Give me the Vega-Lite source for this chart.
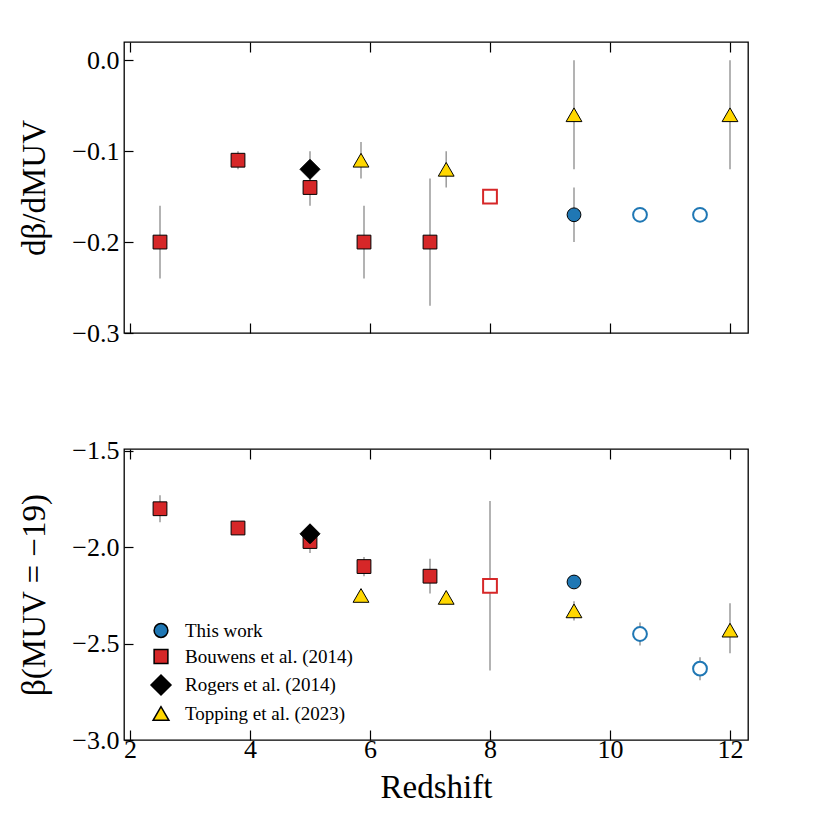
{
  "$schema": "https://vega.github.io/schema/vega-lite/v6.json",
  "background": "white",
  "padding": {"left": 18, "top": 40, "right": 5, "bottom": 5},
  "config": {
    "font": "Liberation Serif",
    "view": {"stroke": "black", "strokeWidth": 1.3},
    "axis": {
      "domain": false, "grid": false,
      "tickColor": "black", "tickWidth": 1.2,
      "labelFont": "Liberation Serif", "labelFontSize": 26, "labelColor": "black", "labelFlush": false,
      "titleFont": "Liberation Serif", "titleFontSize": 33, "titleFontWeight": "normal", "titleColor": "black"
    },
    "axisX": {"tickSize": -10, "labelPadding": 6, "titlePadding": 9},
    "axisY": {"tickSize": -9, "labelPadding": 14, "titlePadding": 20},
    "legend": {"labelFont": "Liberation Serif", "labelFontSize": 19, "labelColor": "black", "labelLimit": 400}
  },
  "datasets": {
    "pts": [
      {"panel": "slope", "study": "Bouwens et al. (2014)", "z": 2.5, "val": -0.20, "lo": -0.24, "hi": -0.16, "open": false},
      {"panel": "slope", "study": "Bouwens et al. (2014)", "z": 3.8, "val": -0.11, "lo": -0.12, "hi": -0.10, "open": false},
      {"panel": "slope", "study": "Bouwens et al. (2014)", "z": 5.0, "val": -0.14, "lo": -0.16, "hi": -0.12, "open": false},
      {"panel": "slope", "study": "Bouwens et al. (2014)", "z": 5.9, "val": -0.20, "lo": -0.24, "hi": -0.16, "open": false},
      {"panel": "slope", "study": "Bouwens et al. (2014)", "z": 7.0, "val": -0.20, "lo": -0.27, "hi": -0.13, "open": false},
      {"panel": "slope", "study": "Bouwens et al. (2014)", "z": 8.0, "val": -0.15, "open": true},
      {"panel": "slope", "study": "Rogers et al. (2014)", "z": 5.0, "val": -0.12, "lo": -0.14, "hi": -0.10, "open": false},
      {"panel": "slope", "study": "Topping et al. (2023)", "z": 5.85, "val": -0.11, "lo": -0.13, "hi": -0.09, "open": false},
      {"panel": "slope", "study": "Topping et al. (2023)", "z": 7.27, "val": -0.12, "lo": -0.14, "hi": -0.10, "open": false},
      {"panel": "slope", "study": "Topping et al. (2023)", "z": 9.4, "val": -0.06, "lo": -0.12, "hi": 0.0, "open": false},
      {"panel": "slope", "study": "Topping et al. (2023)", "z": 12.0, "val": -0.06, "lo": -0.12, "hi": 0.0, "open": false},
      {"panel": "slope", "study": "This work", "z": 9.4, "val": -0.17, "lo": -0.20, "hi": -0.14, "open": false},
      {"panel": "slope", "study": "This work", "z": 10.5, "val": -0.17, "open": true},
      {"panel": "slope", "study": "This work", "z": 11.5, "val": -0.17, "open": true},
      {"panel": "beta", "study": "Bouwens et al. (2014)", "z": 2.5, "val": -1.80, "lo": -1.87, "hi": -1.73, "open": false},
      {"panel": "beta", "study": "Bouwens et al. (2014)", "z": 3.8, "val": -1.90, "lo": -1.92, "hi": -1.88, "open": false},
      {"panel": "beta", "study": "Bouwens et al. (2014)", "z": 5.0, "val": -1.97, "lo": -2.03, "hi": -1.91, "open": false},
      {"panel": "beta", "study": "Bouwens et al. (2014)", "z": 5.9, "val": -2.10, "lo": -2.15, "hi": -2.05, "open": false},
      {"panel": "beta", "study": "Bouwens et al. (2014)", "z": 7.0, "val": -2.15, "lo": -2.24, "hi": -2.06, "open": false},
      {"panel": "beta", "study": "Bouwens et al. (2014)", "z": 8.0, "val": -2.20, "lo": -2.64, "hi": -1.76, "open": true},
      {"panel": "beta", "study": "Rogers et al. (2014)", "z": 5.0, "val": -1.93, "lo": -1.96, "hi": -1.90, "open": false},
      {"panel": "beta", "study": "Topping et al. (2023)", "z": 5.85, "val": -2.25, "lo": -2.27, "hi": -2.23, "open": false},
      {"panel": "beta", "study": "Topping et al. (2023)", "z": 7.27, "val": -2.26, "lo": -2.28, "hi": -2.24, "open": false},
      {"panel": "beta", "study": "Topping et al. (2023)", "z": 9.4, "val": -2.33, "lo": -2.38, "hi": -2.28, "open": false},
      {"panel": "beta", "study": "Topping et al. (2023)", "z": 12.0, "val": -2.43, "lo": -2.55, "hi": -2.29, "open": false},
      {"panel": "beta", "study": "This work", "z": 9.4, "val": -2.18, "lo": -2.21, "hi": -2.15, "open": false},
      {"panel": "beta", "study": "This work", "z": 10.5, "val": -2.45, "lo": -2.51, "hi": -2.39, "open": true},
      {"panel": "beta", "study": "This work", "z": 11.5, "val": -2.63, "lo": -2.69, "hi": -2.57, "open": true}
    ]
  },
  "spacing": 90,
  "resolve": {"legend": {"shape": "independent", "fill": "independent", "size": "independent"}},
  "vconcat": [
    {
      "width": 624, "height": 291,
      "data": {"name": "pts"},
      "transform": [{"filter": "datum.panel === 'slope'"}],
      "layer": [
        {
          "transform": [{"filter": "isValid(datum.lo)"}],
          "mark": {"type": "rule", "color": "#9a9a9a", "strokeWidth": 1.5},
          "encoding": {
            "x": {"field": "z", "type": "quantitative", "scale": {"domain": [1.9, 12.3], "nice": false, "zero": false},
                  "axis": {"orient": "bottom", "values": [2, 4, 6, 8, 10, 12], "labels": false, "title": null}},
            "y": {"field": "lo", "type": "quantitative", "scale": {"domain": [-0.3, 0.02], "nice": false, "zero": false},
                  "axis": {"values": [0, -0.1, -0.2, -0.3], "format": ".1f", "title": "dβ/dMUV"}},
            "y2": {"field": "hi"}
          }
        },
        {
          "transform": [{"filter": "!datum.open"}],
          "mark": {"type": "point", "filled": true, "opacity": 1, "stroke": "black", "strokeWidth": 1},
          "encoding": {
            "x": {"field": "z", "type": "quantitative", "axis": {"orient": "top", "values": [2, 4, 6, 8, 10, 12], "labels": false, "title": null}},
            "y": {"field": "val", "type": "quantitative", "axis": {"values": [0, -0.1, -0.2, -0.3], "format": ".1f", "title": "dβ/dMUV"}},
            "shape": {"field": "study", "type": "nominal", "scale": {"domain": ["This work", "Bouwens et al. (2014)", "Rogers et al. (2014)", "Topping et al. (2023)"], "range": ["circle", "square", "diamond", "triangle-up"]}, "legend": null},
            "fill": {"field": "study", "type": "nominal", "scale": {"domain": ["This work", "Bouwens et al. (2014)", "Rogers et al. (2014)", "Topping et al. (2023)"], "range": ["#1f77b4", "#d62728", "#000000", "#ffd700"]}, "legend": null},
            "size": {"field": "study", "type": "nominal", "scale": {"type": "ordinal", "domain": ["This work", "Bouwens et al. (2014)", "Rogers et al. (2014)", "Topping et al. (2023)"], "range": [190, 190, 400, 250]}, "legend": null}
          }
        },
        {
          "transform": [{"filter": "datum.open"}],
          "mark": {"type": "point", "filled": false, "fill": "white", "opacity": 1, "strokeWidth": 2},
          "encoding": {
            "x": {"field": "z", "type": "quantitative", "axis": null},
            "y": {"field": "val", "type": "quantitative", "axis": {"values": [0, -0.1, -0.2, -0.3], "format": ".1f", "title": "dβ/dMUV"}},
            "shape": {"field": "study", "type": "nominal", "scale": {"domain": ["This work", "Bouwens et al. (2014)", "Rogers et al. (2014)", "Topping et al. (2023)"], "range": ["circle", "square", "diamond", "triangle-up"]}, "legend": null},
            "size": {"field": "study", "type": "nominal", "scale": {"type": "ordinal", "domain": ["This work", "Bouwens et al. (2014)", "Rogers et al. (2014)", "Topping et al. (2023)"], "range": [190, 190, 400, 250]}, "legend": null},
            "stroke": {"field": "study", "type": "nominal", "scale": {"domain": ["This work", "Bouwens et al. (2014)", "Rogers et al. (2014)", "Topping et al. (2023)"], "range": ["#1f77b4", "#d62728", "#000000", "#ffd700"]}, "legend": null}
          }
        }
      ],
      "resolve": {"axis": {"x": "independent"}}
    },
    {
      "width": 624, "height": 291,
      "data": {"name": "pts"},
      "transform": [{"filter": "datum.panel === 'beta'"}],
      "layer": [
        {
          "transform": [{"filter": "isValid(datum.lo)"}],
          "mark": {"type": "rule", "color": "#9a9a9a", "strokeWidth": 1.5},
          "encoding": {
            "x": {"field": "z", "type": "quantitative", "scale": {"domain": [1.9, 12.3], "nice": false, "zero": false},
                  "axis": {"orient": "bottom", "values": [2, 4, 6, 8, 10, 12], "format": "d", "title": "Redshift"}},
            "y": {"field": "lo", "type": "quantitative", "scale": {"domain": [-3.0, -1.49], "nice": false, "zero": false},
                  "axis": {"values": [-1.5, -2.0, -2.5, -3.0], "format": ".1f", "title": "β(MUV = −19)"}},
            "y2": {"field": "hi"}
          }
        },
        {
          "transform": [{"filter": "!datum.open"}],
          "mark": {"type": "point", "filled": true, "opacity": 1, "stroke": "black", "strokeWidth": 1},
          "encoding": {
            "x": {"field": "z", "type": "quantitative", "axis": {"orient": "top", "values": [2, 4, 6, 8, 10, 12], "labels": false, "title": null}},
            "y": {"field": "val", "type": "quantitative", "axis": {"values": [-1.5, -2.0, -2.5, -3.0], "format": ".1f", "title": "β(MUV = −19)"}},
            "shape": {"field": "study", "type": "nominal", "scale": {"domain": ["This work", "Bouwens et al. (2014)", "Rogers et al. (2014)", "Topping et al. (2023)"], "range": ["circle", "square", "diamond", "triangle-up"]},
                      "legend": {"title": null, "orient": "none", "legendX": 26, "legendY": 172, "padding": 0, "rowPadding": 5, "labelOffset": 13, "labelLimit": 400, "labelFont": "Liberation Serif", "labelFontSize": 19, "labelColor": "black", "symbolOpacity": 1,
                                 "encode": {"symbols": {"update": {"stroke": {"value": "black"}, "strokeWidth": {"value": 1}}}}}},
            "fill": {"field": "study", "type": "nominal", "scale": {"domain": ["This work", "Bouwens et al. (2014)", "Rogers et al. (2014)", "Topping et al. (2023)"], "range": ["#1f77b4", "#d62728", "#000000", "#ffd700"]},
                     "legend": {"title": null, "orient": "none", "legendX": 26, "legendY": 172, "padding": 0, "rowPadding": 5, "labelOffset": 13, "labelLimit": 400, "labelFont": "Liberation Serif", "labelFontSize": 19, "labelColor": "black", "symbolOpacity": 1,
                                "encode": {"symbols": {"update": {"stroke": {"value": "black"}, "strokeWidth": {"value": 1}}}}}},
            "size": {"field": "study", "type": "nominal", "scale": {"type": "ordinal", "domain": ["This work", "Bouwens et al. (2014)", "Rogers et al. (2014)", "Topping et al. (2023)"], "range": [190, 190, 400, 250]},
                     "legend": {"title": null, "orient": "none", "legendX": 26, "legendY": 172, "padding": 0, "rowPadding": 5, "labelOffset": 13, "labelLimit": 400, "labelFont": "Liberation Serif", "labelFontSize": 19, "labelColor": "black", "symbolOpacity": 1,
                                "encode": {"symbols": {"update": {"stroke": {"value": "black"}, "strokeWidth": {"value": 1}}}}}}
          }
        },
        {
          "transform": [{"filter": "datum.open"}],
          "mark": {"type": "point", "filled": false, "fill": "white", "opacity": 1, "strokeWidth": 2},
          "encoding": {
            "x": {"field": "z", "type": "quantitative", "axis": null},
            "y": {"field": "val", "type": "quantitative", "axis": {"values": [-1.5, -2.0, -2.5, -3.0], "format": ".1f", "title": "β(MUV = −19)"}},
            "shape": {"field": "study", "type": "nominal", "scale": {"domain": ["This work", "Bouwens et al. (2014)", "Rogers et al. (2014)", "Topping et al. (2023)"], "range": ["circle", "square", "diamond", "triangle-up"]}, "legend": null},
            "size": {"field": "study", "type": "nominal", "scale": {"type": "ordinal", "domain": ["This work", "Bouwens et al. (2014)", "Rogers et al. (2014)", "Topping et al. (2023)"], "range": [190, 190, 400, 250]}, "legend": null},
            "stroke": {"field": "study", "type": "nominal", "scale": {"domain": ["This work", "Bouwens et al. (2014)", "Rogers et al. (2014)", "Topping et al. (2023)"], "range": ["#1f77b4", "#d62728", "#000000", "#ffd700"]}, "legend": null}
          }
        }
      ],
      "resolve": {"axis": {"x": "independent"}}
    }
  ]
}
